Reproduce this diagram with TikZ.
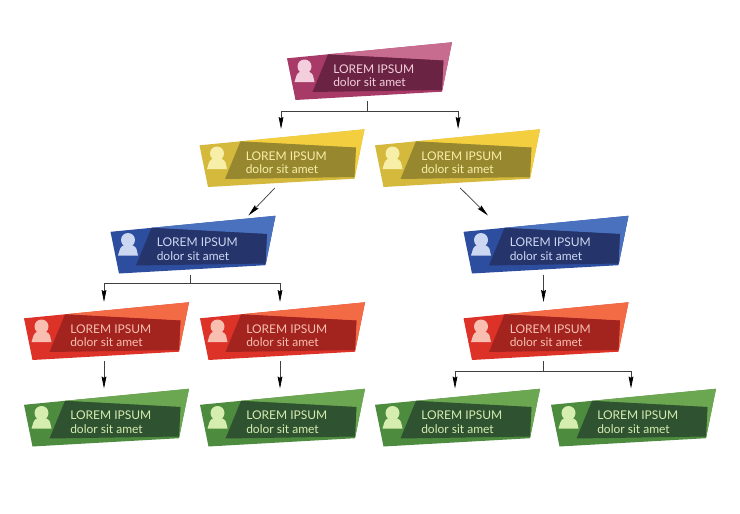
\documentclass[tikz,border=0pt]{standalone}
\usepackage{fontspec}
\setmainfont{Lato}
\usetikzlibrary{arrows.meta}

\definecolor{pinkbase}{HTML}{A83A68}
\definecolor{pinklight}{HTML}{C76C8F}
\definecolor{pinkdark}{HTML}{6B2343}
\definecolor{pinktext}{HTML}{F3CFDD}
\definecolor{yellowbase}{HTML}{D4B93C}
\definecolor{yellowlight}{HTML}{F3CE3E}
\definecolor{yellowdark}{HTML}{97872F}
\definecolor{yellowtext}{HTML}{F7EFA8}
\definecolor{bluebase}{HTML}{2D4E9E}
\definecolor{bluelight}{HTML}{4A71BD}
\definecolor{bluedark}{HTML}{25346B}
\definecolor{bluetext}{HTML}{CCD8F2}
\definecolor{redbase}{HTML}{DC3228}
\definecolor{redlight}{HTML}{F26B45}
\definecolor{reddark}{HTML}{A3231F}
\definecolor{redtext}{HTML}{F8BFB0}
\definecolor{greenbase}{HTML}{4D8B3F}
\definecolor{greenlight}{HTML}{6BA650}
\definecolor{greendark}{HTML}{2F5231}
\definecolor{greentext}{HTML}{D6EDB0}

\tikzset{
  orgframe/.style={minimum width=120pt,minimum height=44.25pt,inner sep=0pt,outer sep=0pt},
  orgtext/.style={anchor=west,align=left,font=\fontsize{9}{10.2}\selectfont,inner sep=0pt},
  link/.style={draw=black!75,line width=0.55pt},
  tip/.style={link,-{Stealth[length=9pt,width=3.6pt,inset=1pt,black]}}
}

\begin{document}
\begin{tikzpicture}[x=0.75pt,y=-0.75pt]
    \useasboundingbox (0,0) rectangle (740,514);

    \foreach \name/\x/\y/\grp in {top/287/42/pink,
        yl/199.5/129/yellow,yr/375/129/yellow,
        bl/110.5/215.5/blue,br/463.5/215.5/blue,
        ra/24/302/red,rb/200/302/red,rc/463.5/302/red,
        ga/24/388.5/green,gb/200/388.5/green,gc/375/388.5/green,gd/551/388.5/green}
    {
    \begin{scope}[shift={(\x,\y)}]
      \fill[\grp base] (0,16.3) -- (165,0.3) -- (155,49.7) -- (8.5,58) -- cycle;
      \fill[\grp light] (41,12.3) -- (165,0.3) -- (155,49.7) -- (156.5,18.5) -- cycle;
      \fill[\grp dark] (41,12.3) -- (156.5,18.5) -- (155,48) -- (25.5,50) -- cycle;
      \fill[\grp text] (17.5,24.5) circle (7);
      \fill[\grp text] (7.5,40) -- (9.5,33.5) .. controls (10.5,30.5) and (14,29) .. (17.5,29)
        .. controls (21,29) and (25,30.5) .. (26,33.5) -- (27.5,40) -- cycle;
      \node (\name) [orgframe] at (80,29.5) {};
      \node (\name txt) [orgtext,text=\grp text] at (46,33.8) {LOREM IPSUM\\dolor sit amet};
    \end{scope}
    }

    \draw[link] (top.south) -- ++(0,10) coordinate (topj);
    \draw[tip] (topj) -| (yl.87);
    \draw[tip] (topj) -| (yr.84);
    \draw[tip] (yl.261) -- (bl.27.4);
    \draw[tip] (yr.-80.5) -- (br.152.6);
    \draw[link] (bl.south) -- ++(0,9) coordinate (blj);
    \draw[tip] (blj) -| (ra.north);
    \draw[tip] (blj) -| (rb.north);
    \draw[tip] (ra.south) -- (ga.north);
    \draw[tip] (rb.south) -- (gb.north);
    \draw[tip] (br.south) -- (rc.north);
    \draw[link] (rc.south) -- ++(0,10) coordinate (rcj);
    \draw[tip] (rcj) -| (gc.north);
    \draw[tip] (rcj) -| (gd.north);
\end{tikzpicture}
\end{document}
